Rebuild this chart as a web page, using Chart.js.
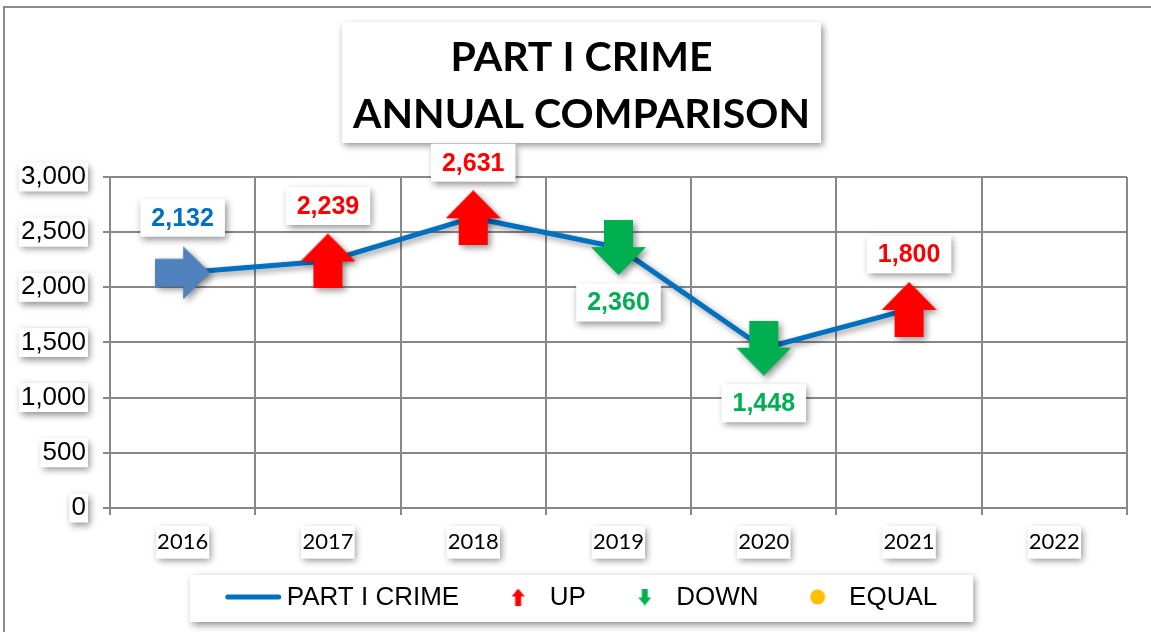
<!DOCTYPE html>
<html>
<head>
<meta charset="utf-8">
<script src="https://cdn.jsdelivr.net/npm/chart.js@4/dist/chart.umd.min.js"></script>
<style>
    html, body { margin: 0; padding: 0; background: #fff; overflow: hidden; }
    #frame { position: absolute; left: 3px; top: 6px; width: 1300px; height: 800px;
             border-top: 2px solid #8a8a8a; border-left: 2px solid #8a8a8a; }
    #crimeChart { position: absolute; left: 0; top: 0; }
</style>
</head>
<body>
<div id="frame"></div>
<canvas id="crimeChart" width="1151" height="632"></canvas>
<script>
// Part I crime - annual comparison
const years = ['2016', '2017', '2018', '2019', '2020', '2021', '2022'];
const crimeCounts = [2132, 2239, 2631, 2360, 1448, 1800, null];
const trends = ['flat', 'up', 'up', 'down', 'down', 'up', null];
const yTickValues = [0, 500, 1000, 1500, 2000, 2500, 3000];
const titleLines = ['PART I CRIME', 'ANNUAL COMPARISON'];
const legendLabels = ['PART I CRIME', 'UP', 'DOWN', 'EQUAL'];

const COLORS = {
    line: '#0070C0',
    up: '#FF0000',
    down: '#00B050',
    flat: '#4F81BD',
    flatText: '#0070C0',
    equal: '#FFC000',
    grid: '#888888'
};

const ARIAL = '"Liberation Sans", Arial, sans-serif';

// Build an arrow as a small canvas, usable as a Chart.js pointStyle
function arrowCanvas(dir, color, width, length, headLen, shaftW) {
    const c = document.createElement('canvas');
    const horizontal = dir === 'right';
    c.width = horizontal ? length : width;
    c.height = horizontal ? width : length;
    const ctx = c.getContext('2d');
    ctx.translate(c.width / 2, c.height / 2);
    ctx.rotate(dir === 'right' ? Math.PI / 2 : dir === 'down' ? Math.PI : 0);
    const h = length / 2, w = width / 2, s = shaftW / 2, b = -h + headLen;
    ctx.beginPath();
    ctx.moveTo(0, -h);
    ctx.lineTo(w, b);
    ctx.lineTo(s, b);
    ctx.lineTo(s, h);
    ctx.lineTo(-s, h);
    ctx.lineTo(-s, b);
    ctx.lineTo(-w, b);
    ctx.closePath();
    ctx.fillStyle = color;
    ctx.fill();
    return c;
}

function dotSample(color) {
    const c = document.createElement('canvas');
    c.width = 16; c.height = 16;
    const ctx = c.getContext('2d');
    ctx.fillStyle = color;
    ctx.beginPath();
    ctx.arc(8, 8, 7.5, 0, Math.PI * 2);
    ctx.fill();
    return c;
}

const bigArrows = {
    up: arrowCanvas('up', COLORS.up, 55, 55, 28, 29),
    down: arrowCanvas('down', COLORS.down, 55, 55, 28, 29),
    flat: arrowCanvas('right', COLORS.flat, 53, 55, 27, 28)
};

const legendIcons = [
    null,
    arrowCanvas('up', COLORS.up, 13, 17, 8, 6),
    arrowCanvas('down', COLORS.down, 13, 17, 8, 6),
    dotSample(COLORS.equal)
];

function dropShadow(ctx, blur, dx, dy, alpha) {
    ctx.shadowColor = `rgba(0,0,0,${alpha})`;
    ctx.shadowBlur = blur;
    ctx.shadowOffsetX = dx;
    ctx.shadowOffsetY = dy;
}

function shadowBox(ctx, x, y, w, h) {
    ctx.save();
    dropShadow(ctx, 7, 2, 3, 0.45);
    ctx.fillStyle = '#fff';
    ctx.fillRect(x, y, w, h);
    ctx.restore();
}

// White boxes with shadows behind the title and the tick labels
const boxesPlugin = {
    id: 'boxes',
    beforeDraw(chart) {
        const ctx = chart.ctx;

        const tb = chart.titleBlock;
        if (tb) {
            const f = Chart.helpers.toFont(chart.options.plugins.title.font);
            ctx.save();
            ctx.font = f.string;
            const w = Math.max(...titleLines.map(t => ctx.measureText(t).width)) + 22;
            ctx.restore();
            const cx = (tb.left + tb.right) / 2;
            const y0 = tb.top + tb._padding.top + f.lineHeight / 2;
            shadowBox(ctx, cx - w / 2, y0 - 36, w, f.lineHeight + 64);
        }

        ['x', 'y'].forEach(id => {
            chart.scales[id].getLabelItems().forEach(item => {
                const b = item.options.backdrop;
                const [tx, ty] = item.options.translation;
                if (b) shadowBox(ctx, tx + b.left, ty + b.top, b.width, b.height);
            });
        });
    }
};

// Shadow under the line and the arrows
const shadowPlugin = {
    id: 'lineShadow',
    beforeDatasetsDraw(chart) {
        chart.ctx.save();
        dropShadow(chart.ctx, 6, 3, 3, 0.4);
    },
    afterDatasetsDraw(chart) {
        chart.ctx.restore();
    }
};

// Value labels in white boxes, above rising points and below falling ones
const valueLabels = {
    id: 'valueLabels',
    afterDatasetsDraw(chart) {
        const ctx = chart.ctx;
        const meta = chart.getDatasetMeta(0);
        ctx.save();
        ctx.font = `bold 25px ${ARIAL}`;
        ctx.textAlign = 'center';
        ctx.textBaseline = 'middle';
        meta.data.forEach((pt, i) => {
            const v = crimeCounts[i];
            if (v === null) return;
            const t = trends[i];
            const text = v.toLocaleString('en-US');
            const cy = pt.y + (t === 'down' ? 55 : -55);
            const w = ctx.measureText(text).width + 22;
            const h = 38;
            shadowBox(ctx, pt.x - w / 2, cy - h / 2, w, h);
            ctx.fillStyle = t === 'flat' ? COLORS.flatText : COLORS[t];
            ctx.fillText(text, pt.x, cy + 1);
        });
        ctx.restore();
    }
};

// Legend in a shadowed box under the axis
const legendPlugin = {
    id: 'boxLegend',
    afterDraw(chart) {
        const ctx = chart.ctx;
        const tb = chart.titleBlock;
        const cx = (tb.left + tb.right) / 2;
        const cy = chart.height - 35;
        ctx.save();
        ctx.font = `26px ${ARIAL}`;
        ctx.textBaseline = 'middle';
        ctx.textAlign = 'left';
        const widths = legendLabels.map(t => ctx.measureText(t).width);
        const lineLen = 55, lineGap = 6, toIcon = 59, toText = 31.5;
        let total = lineLen + lineGap + widths[0];
        for (let i = 1; i < widths.length; i++) total += toIcon + toText + widths[i];
        const left = cx - total / 2;
        shadowBox(ctx, left - 36, cy - 22, total + 72, 47);

        ctx.strokeStyle = COLORS.line;
        ctx.lineWidth = 5;
        ctx.lineCap = 'round';
        ctx.beginPath();
        ctx.moveTo(left + 2, cy);
        ctx.lineTo(left + lineLen - 2, cy);
        ctx.stroke();

        ctx.fillStyle = '#000';
        let x = left + lineLen + lineGap;
        ctx.fillText(legendLabels[0], x, cy + 1);
        x += widths[0];
        for (let i = 1; i < legendLabels.length; i++) {
            const icon = legendIcons[i];
            const ix = x + toIcon;
            ctx.drawImage(icon, ix - icon.width / 2, cy - icon.height / 2);
            ctx.fillText(legendLabels[i], ix + toText, cy + 1);
            x = ix + toText + widths[i];
        }
        ctx.restore();
    }
};

const ctx = document.getElementById('crimeChart').getContext('2d');
const crimeChart = new Chart(ctx, {
    type: 'line',
    data: {
        labels: years,
        datasets: [{
            label: legendLabels[0],
            data: crimeCounts,
            borderColor: COLORS.line,
            backgroundColor: COLORS.line,
            borderWidth: 5,
            tension: 0,
            pointStyle: trends.map(t => t ? bigArrows[t] : false),
            pointRadius: 27,
            pointHoverRadius: 27,
            clip: false
        }]
    },
    options: {
        responsive: false,
        animation: false,
        events: [],
        layout: { autoPadding: false, padding: { left: 12, right: 0, top: 0, bottom: 0 } },
        scales: {
            x: {
                offset: true,
                grid: { offset: true, color: COLORS.grid, lineWidth: 2, tickLength: 7 },
                border: { color: COLORS.grid, width: 2 },
                ticks: {
                    color: '#000',
                    padding: 14,
                    font: { family: 'Lato', size: 22 },
                    showLabelBackdrop: true,
                    backdropColor: '#fff',
                    backdropPadding: { top: 3, bottom: 3, left: 1, right: 1 }
                },
                afterFit(scale) { scale.height = 124; }
            },
            y: {
                min: 0,
                max: 3000,
                afterBuildTicks(scale) {
                    scale.ticks = yTickValues.map(v => ({ value: v }));
                },
                grid: { color: COLORS.grid, lineWidth: 2, tickLength: 7 },
                border: { color: COLORS.grid, width: 2 },
                ticks: {
                    color: '#000',
                    padding: 17,
                    font: { family: ARIAL, size: 26, lineHeight: 1.1 },
                    showLabelBackdrop: true,
                    backdropColor: '#fff',
                    backdropPadding: { top: 0, bottom: 0, left: 2, right: 2 }
                },
                afterFit(scale) { scale.width = 98; }
            },
            // empty right-hand axis, only keeps the plot clear of the edge
            yRight: {
                position: 'right',
                grid: { display: false, drawTicks: false },
                border: { display: false },
                ticks: { display: false },
                afterFit(scale) { scale.width = 24; }
            }
        },
        plugins: {
            title: {
                display: true,
                text: titleLines,
                color: '#000',
                font: { family: 'Lato', size: 41, weight: 'bold', lineHeight: 1.39 },
                padding: { top: 29.5, bottom: 33.5 }
            },
            legend: { display: false },
            tooltip: { enabled: false }
        }
    },
    plugins: [boxesPlugin, shadowPlugin, valueLabels, legendPlugin]
});
</script>
</body>
</html>
